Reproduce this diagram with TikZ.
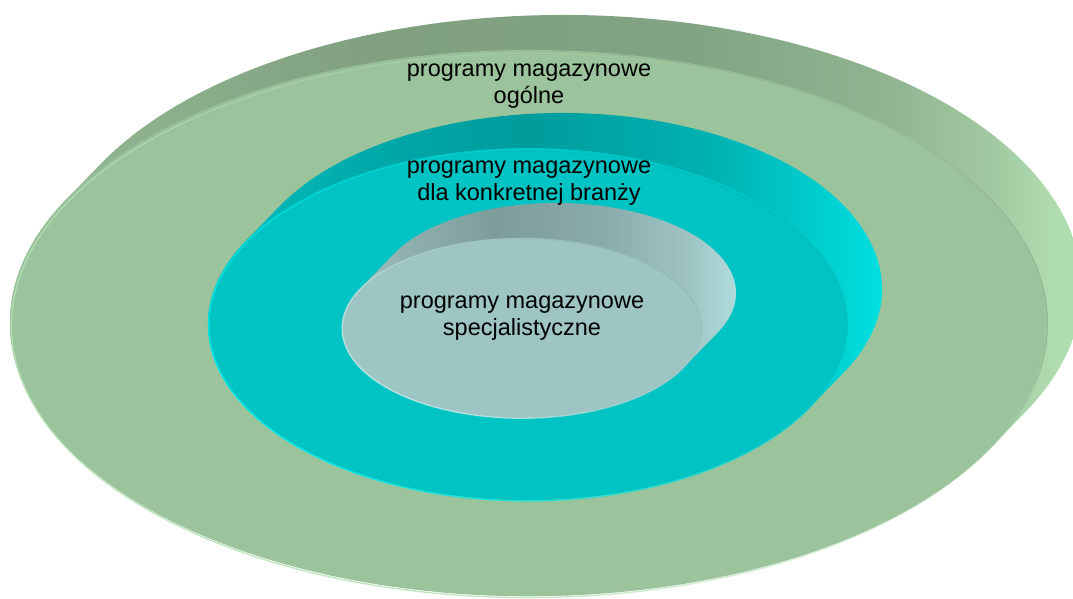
\documentclass[tikz,border=0pt]{standalone}
\usepackage{fontspec}
\setmainfont{Liberation Sans}
\usetikzlibrary{calc,fadings}

\definecolor{greenface}{RGB}{156,196,156}
\definecolor{greenrim}{RGB}{184,228,184}
\definecolor{greenedge}{RGB}{136,172,136}
\definecolor{tealface}{RGB}{0,196,196}
\definecolor{tealrim}{RGB}{0,236,236}
\definecolor{tealedge}{RGB}{0,176,176}
\definecolor{greyface}{RGB}{158,196,196}
\definecolor{greyrim}{RGB}{190,228,228}
\definecolor{greyedge}{RGB}{136,170,170}

% side walls: light on the left, darkest along the top, brightest on the right
% (the part from 25bp to 75bp is stretched over the width of the wall)
\pgfdeclarehorizontalshading{greenside}{100bp}{%
  rgb(0bp)=(0.588,0.745,0.588); rgb(25bp)=(0.588,0.745,0.588);
  rgb(29bp)=(0.573,0.722,0.573); rgb(34bp)=(0.549,0.690,0.549);
  rgb(43bp)=(0.502,0.627,0.502); rgb(56bp)=(0.510,0.643,0.518);
  rgb(64bp)=(0.565,0.706,0.565); rgb(68bp)=(0.627,0.784,0.627);
  rgb(71bp)=(0.690,0.867,0.690); rgb(100bp)=(0.714,0.886,0.714)}
\pgfdeclarehorizontalshading{tealside}{100bp}{%
  rgb(0bp)=(0,0.753,0.753); rgb(25bp)=(0,0.753,0.753);
  rgb(32bp)=(0,0.714,0.714); rgb(39bp)=(0,0.659,0.659);
  rgb(49bp)=(0,0.612,0.612); rgb(61bp)=(0,0.698,0.698);
  rgb(68bp)=(0,0.808,0.808); rgb(73bp)=(0,0.894,0.894);
  rgb(100bp)=(0,0.894,0.894)}
\pgfdeclarehorizontalshading{greyside}{100bp}{%
  rgb(0bp)=(0.651,0.784,0.784); rgb(25bp)=(0.651,0.784,0.784);
  rgb(28bp)=(0.635,0.769,0.769); rgb(35bp)=(0.565,0.690,0.690);
  rgb(45bp)=(0.494,0.612,0.612); rgb(58bp)=(0.541,0.675,0.675);
  rgb(67bp)=(0.627,0.769,0.769); rgb(73bp)=(0.698,0.878,0.878);
  rgb(100bp)=(0.706,0.886,0.886)}

\tikzset{
  disc label/.style={align=center, font=\fontsize{23.5}{27.5}\selectfont,
    text=black, inner sep=0pt},
  light rim/.style={line width=1.3pt, path fading=east, fading angle=40},
  dark rim/.style={line width=0.9pt, opacity=0.5, path fading=west, fading angle=40},
}

% extrusion offset of every disc (towards the upper right)
\def\dx{34}
\def\dy{35}

% #1,#2 centre of the front face, #3,#4 radii, #5 face colour,
% #6 side shading, #7 light rim, #8 dark rim
\newcommand{\extrudeddisc}[8]{%
  \pgfmathsetmacro{\tang}{-atan((\dx/\dy)*(#4/#3))}%
  \pgfmathsetmacro{\tangb}{\tang+180}%
  \pgfmathsetmacro{\tangc}{\tang+360}%
  \shade[shading=#6]
    ($(#1,#2)+(\dx,\dy)+(\tang:#3 and #4)$)
      arc[start angle=\tang, end angle=\tangb, x radius=#3, y radius=#4]
    -- ($(#1,#2)+(\tangb:#3 and #4)$)
      arc[start angle=\tangb, end angle=\tangc, x radius=#3, y radius=#4]
    -- cycle;
  \fill[#5] (#1,#2) ellipse[x radius=#3, y radius=#4];
  \draw[#8, dark rim] (#1,#2) ellipse[x radius=#3, y radius=#4];
  \draw[#7, light rim] (#1,#2) ellipse[x radius=#3, y radius=#4];
}

\begin{document}
\begin{tikzpicture}[x=1pt, y=1pt]
  \useasboundingbox (0,0) rectangle (1073,599);

  % outer disc: general warehouse programs
  \extrudeddisc{529}{276}{519}{273}{greenface}{greenside}{greenrim}{greenedge}
  % middle disc: programs for a given industry
  \extrudeddisc{528}{275}{320}{176}{tealface}{tealside}{tealrim}{tealedge}
  % inner disc: specialised programs
  \extrudeddisc{522}{271}{180}{90}{greyface}{greyside}{greyrim}{greyedge}

  \node[disc label] (general) at (529,513) {programy magazynowe\\ogólne};
  \node[disc label] (branch) at (529,416) {programy magazynowe\\dla konkretnej branży};
  \node[disc label] (special) at (522,281) {programy magazynowe\\specjalistyczne};
\end{tikzpicture}
\end{document}
